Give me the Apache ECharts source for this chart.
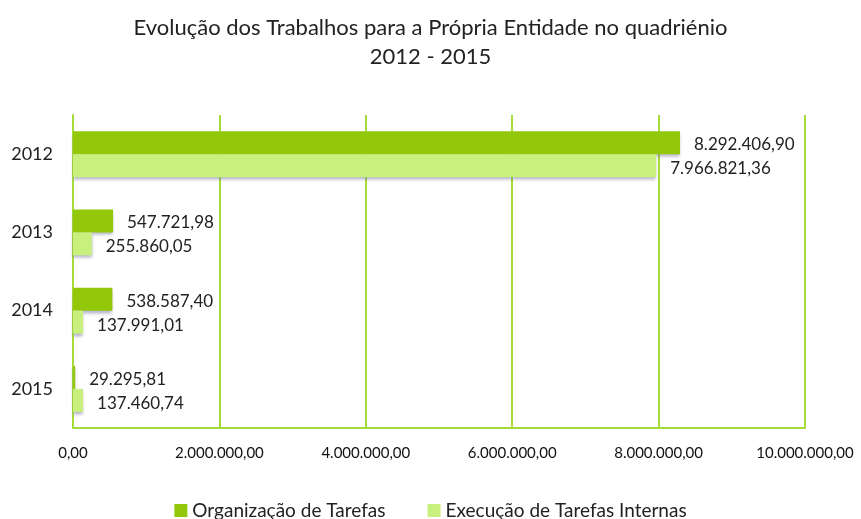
<!DOCTYPE html>
<html>
<head>
<meta charset="utf-8">
<script src="https://cdn.jsdelivr.net/npm/echarts@6/dist/echarts.min.js"></script>
<style>
  html, body { margin: 0; padding: 0; background: #fff; }
  #main { width: 861px; height: 519px; }
</style>
</head>
<body>
<div id="main"></div>
<script>
// dados do gráfico
var anos = ["2012", "2013", "2014", "2015"];
var organizacao = [8292406.90, 547721.98, 538587.40, 29295.81];
var execucao = [7966821.36, 255860.05, 137991.01, 137460.74];
var nomesSeries = ["Organização de Tarefas", "Execução de Tarefas Internas"];

// formato 1.234.567,89
function fmt(v) {
  var p = Number(v).toFixed(2).split(".");
  return p[0].replace(/\B(?=(\d{3})+(?!\d))/g, ".") + "," + p[1];
}

var chart = echarts.init(document.getElementById("main"));
var fonte = "Lato, 'Open Sans', sans-serif";
var verde = "#a6dc3a";

var option = {
  animation: false,
  title: {
    text: "Evolução dos Trabalhos para a Própria Entidade no quadriénio\n2012 - 2015",
    left: "center",
    top: 8,
    textStyle: {
      fontFamily: fonte,
      fontWeight: "normal",
      fontSize: 22,
      color: "#222",
      lineHeight: 29
    }
  },
  legend: {
    bottom: -6,
    left: "center",
    itemWidth: 13,
    itemHeight: 13,
    itemGap: 42,
    icon: "rect",
    textStyle: { fontFamily: fonte, fontSize: 19, color: "#222" },
    data: nomesSeries
  },
  grid: { left: 73, right: 56, top: 115, bottom: 91 },
  xAxis: {
    type: "value",
    min: 0,
    max: 10000000,
    interval: 2000000,
    axisLine: { show: true, lineStyle: { color: verde, width: 2 } },
    axisTick: { show: false },
    splitLine: { lineStyle: { color: verde, width: 2 } },
    axisLabel: {
      fontFamily: fonte,
      fontSize: 15,
      color: "#111",
      margin: 18,
      formatter: fmt
    }
  },
  yAxis: {
    type: "category",
    inverse: true,
    data: anos,
    axisLine: { lineStyle: { color: verde, width: 2 } },
    axisTick: { show: false },
    axisLabel: { fontFamily: fonte, fontSize: 18, color: "#222", margin: 20 }
  },
  series: [
    {
      name: nomesSeries[0],
      type: "bar",
      data: organizacao,
      barWidth: 23,
      barGap: "0%",
      itemStyle: {
        color: "#92c70a",
        shadowColor: "rgba(90,90,140,0.45)",
        shadowOffsetY: 3,
        shadowBlur: 3
      },
      label: {
        show: true,
        position: "right",
        distance: 14,
        offset: [0, 2],
        fontFamily: fonte,
        fontSize: 17,
        color: "#222",
        formatter: function (p) { return fmt(p.value); }
      }
    },
    {
      name: nomesSeries[1],
      type: "bar",
      data: execucao,
      barWidth: 23,
      itemStyle: {
        color: "#c8f07c",
        shadowColor: "rgba(90,90,140,0.45)",
        shadowOffsetY: 3,
        shadowBlur: 3
      },
      label: {
        show: true,
        position: "right",
        distance: 14,
        offset: [0, 3],
        fontFamily: fonte,
        fontSize: 17,
        color: "#222",
        formatter: function (p) { return fmt(p.value); }
      }
    }
  ]
};

chart.setOption(option);
</script>
</body>
</html>
